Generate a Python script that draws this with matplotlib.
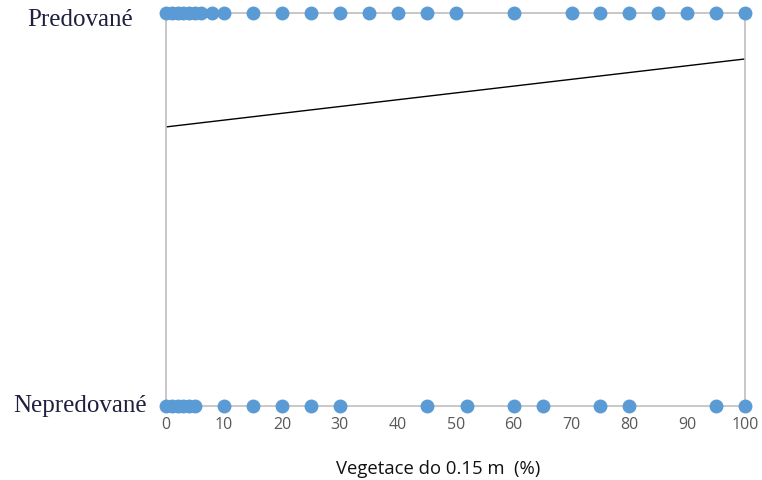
import matplotlib.pyplot as plt
import matplotlib.transforms as mtransforms

# vegetation cover (%) for plots where predation happened / did not happen
predovane_x = [0, 1, 2, 3, 4, 5, 6, 8, 10, 15, 20, 25, 30, 35, 40, 45, 50,
               60, 70, 75, 80, 85, 90, 95, 100]
nepredovane_x = [0, 1, 2, 3, 4, 5, 10, 15, 20, 25, 30, 45, 52, 60, 65, 75,
                 80, 95, 100]
# fitted trend (probability of predation)
trend_x = [0, 100]
trend_y = [0.71, 0.883]

y_labels = ['Nepredované', 'Predované']
x_ticks = [0, 10, 20, 30, 40, 50, 60, 70, 80, 90, 100]

fig = plt.figure(figsize=(7.62, 4.81), dpi=100)
ax = fig.add_axes([0.218, 0.154, 0.76, 0.817])

blue = '#5B9BD5'
grey = '#BFBFBF'

ax.plot(predovane_x, [1] * len(predovane_x), 'o', color=blue, ms=9,
        clip_on=False, zorder=3)
ax.plot(nepredovane_x, [0] * len(nepredovane_x), 'o', color=blue, ms=9,
        clip_on=False, zorder=3)
ax.plot(trend_x, trend_y, color='black', lw=1.0, zorder=2)

ax.set_xlim(0, 100)
ax.set_ylim(0, 1)
for s in ax.spines.values():
    s.set_color(grey)
    s.set_linewidth(1.2)

ax.set_xticks(x_ticks)
ax.set_xticklabels([str(t) for t in x_ticks], fontsize=11.5, color='#595959',
                   family='Open Sans')
ax.tick_params(axis='x', length=0, pad=7)

# category labels, centred left of the plot like in the Excel chart
ax.set_yticks([])
ytr = ax.get_yaxis_transform()
baseline_shift = [-5, -12]
for val, (lab, dy) in enumerate(zip(y_labels, baseline_shift)):
    tr = mtransforms.offset_copy(ytr, fig=fig, y=dy, units='dots')
    ax.text(-0.1485, val, lab, transform=tr, ha='center', va='baseline',
            fontsize=18, color='#1F1F3F', family='Liberation Serif')

ax.set_xlabel('Vegetace do 0.15 m  (%)', fontsize=13.3, color='#111111',
              family='Open Sans')
ax.xaxis.set_label_coords(0.469, -0.135)

fig.savefig('out.png', dpi=100)
